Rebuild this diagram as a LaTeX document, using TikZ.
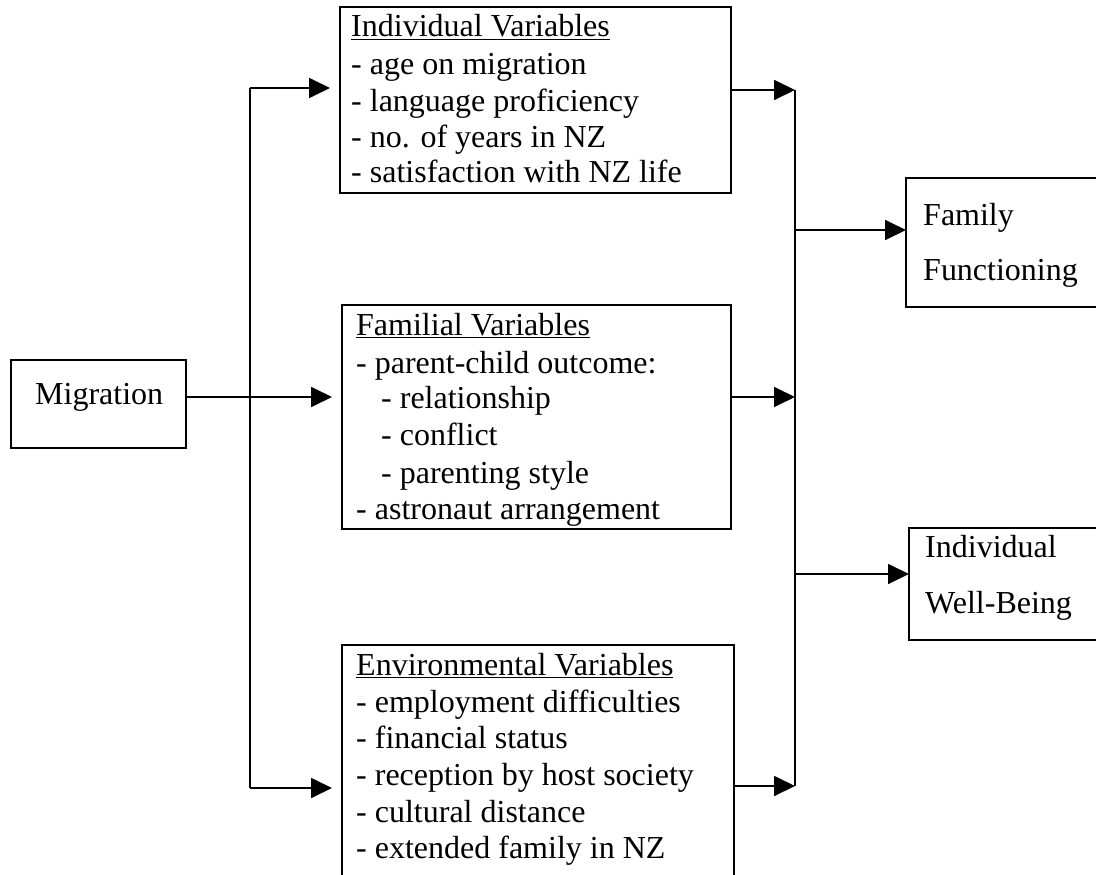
\documentclass[tikz,border=0pt]{standalone}
\usepackage{fontspec}
\setmainfont{Liberation Serif}
\usetikzlibrary{arrows.meta}
\begin{document}
\begin{tikzpicture}[x=1pt,y=-1pt,
  box/.style={draw,line width=1.8pt,inner sep=0pt,outer sep=0pt,anchor=north west},
  txt/.style={anchor=base west,inner sep=0pt,font=\fontsize{32}{36.7}\selectfont},
  conn/.style={line width=1.8pt},
  arr/.style={line width=1.8pt,-{Triangle[length=21pt,width=20pt]}},
  arrgap/.style={arr,shorten >=10pt}]
\useasboundingbox (0,0) rectangle (1096,875);
\clip (0,0) rectangle (1096,875);
% boxes
\node[box,minimum width=391pt,minimum height=186pt] (ind) at (340,7) {};
\node[box,minimum width=389pt,minimum height=224pt] (fam) at (342,305) {};
\node[box,minimum width=392pt,minimum height=260pt] (env) at (342,645) {};
\node[box,minimum width=175pt,minimum height=88pt] (mig) at (11,360) {};
\node[box,minimum width=230pt,minimum height=129pt] (ff) at (906,178) {};
\node[box,minimum width=230pt,minimum height=112pt] (iwb) at (909,528) {};
% texts
\node[txt] (mt) at (35,404) {Migration};
\node[txt] (ff1) at (923,225) {Family};
\node[txt] (ff2) at (923,280) {Functioning};
\node[txt] (iw1) at (925,557) {Individual};
\node[txt] (iw2) at (925,613) {Well-Being};
\foreach \t/\y [count=\i] in {{\underline{Individual Variables}}/37,{- age on migration}/75,{- language proficiency}/111,{- no. of years in NZ}/147,{- satisfaction with NZ life}/182}
  \node[txt] (it\i) at (351,\y) {\t};
\foreach \t/\x/\y [count=\i] in {{\underline{Familial Variables}}/356/335,{- parent-child outcome:}/356/373,{- relationship}/381/408,{- conflict}/381/445,{- parenting style}/381/483,{- astronaut arrangement}/356/519}
  \node[txt] (ft\i) at (\x,\y) {\t};
\foreach \t/\y [count=\i] in {{\underline{Environmental Variables}}/675,{- employment difficulties}/712,{- financial status}/748,{- reception by host society}/785,{- cultural distance}/822,{- extended family in NZ}/858}
  \node[txt] (et\i) at (356,\y) {\t};
% bus coordinates
\coordinate (lt) at (250,88);
\coordinate (lb) at (250,788);
\coordinate (rt) at (795,90);
\coordinate (rb) at (795,786);
\coordinate (rf) at (795,230);
\coordinate (ri) at (795,574);
% connectors
\draw[conn] (lt) -- (lb);
\draw[arrgap] (lt) -- (ind.west |- lt);
\draw[arrgap] ([yshift=7pt]mig.east) -- ([yshift=7pt]mig.east -| fam.west);
\draw[arrgap] (lb) -- (env.west |- lb);
\draw[conn] (rt) -- (rb);
\draw[arr] (ind.east |- rt) -- (rt);
\draw[arr] ([yshift=20pt]fam.east) -- ([yshift=20pt]fam.east -| rt);
\draw[arr] (env.east |- rb) -- (rb);
\draw[arr] (rf) -- (ff.west |- rf);
\draw[arr] (ri) -- (iwb.west |- ri);
\end{tikzpicture}
\end{document}
